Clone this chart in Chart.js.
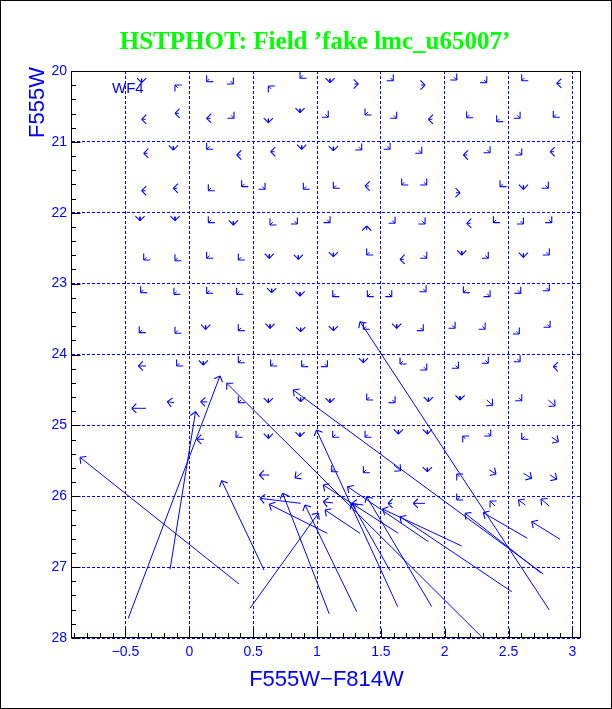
<!DOCTYPE html>
<html><head><meta charset="utf-8">
<script src="https://cdn.jsdelivr.net/npm/chart.js@4"></script>
<style>html,body{margin:0;padding:0;background:#fff;}canvas{display:block;}</style>
</head><body>
<canvas id="c" width="612" height="709"></canvas>
<script>
const titleText = "HSTPHOT: Field \u2019fake lmc_u65007\u2019";
const xAxisTitle = "F555W\u2212F814W";
const yAxisTitle = "F555W";
const chipLabel = "WF4";
const xTickValues = [-0.5, 0, 0.5, 1, 1.5, 2, 2.5, 3];
const yTickValues = [20, 21, 22, 23, 24, 25, 26, 27, 28];

// input (true) colour and magnitude of each fake star
const inputColor = [
 -0.373,-0.090,0.158,0.323,0.641,0.889,1.102,1.292,1.575,1.815,2.072,2.307,2.625,2.908,
 -0.342,-0.081,0.167,0.328,0.619,0.867,1.066,1.398,1.602,1.903,2.194,2.429,2.568,2.872,
 -0.326,-0.125,0.158,0.402,0.668,0.880,1.128,1.328,1.550,1.798,2.177,2.333,2.581,2.856,
 -0.342,-0.094,0.171,0.432,0.571,0.915,1.150,1.407,1.685,1.837,2.089,2.455,2.616,2.789,
 -0.386,-0.112,0.171,0.345,0.654,0.824,1.080,1.389,1.589,1.824,2.203,2.403,2.594,2.816,
 -0.335,-0.090,0.158,0.406,0.626,0.854,1.128,1.411,1.681,1.837,2.133,2.319,2.616,2.797,
 -0.359,-0.098,0.158,0.393,0.645,0.867,1.145,1.416,1.563,1.832,2.168,2.333,2.573,2.797,
 -0.370,-0.090,0.128,0.406,0.632,0.872,1.128,1.385,1.624,1.810,2.059,2.294,2.562,2.803,
 -0.339,-0.077,0.110,0.406,0.659,0.902,1.059,1.363,1.672,1.837,2.085,2.319,2.568,2.881,
 -0.339,-0.120,0.141,0.406,0.619,0.872,1.102,1.411,1.589,1.872,2.120,2.329,2.581,2.811,
 0.115,0.388,0.619,0.867,1.145,1.398,1.637,1.864,2.163,2.338,2.625,2.838,
 0.626,0.880,1.137,1.385,1.603,1.864,2.116,2.349,2.616,2.825,
 1.125,1.363,1.587,1.846,2.116,2.394,2.632,2.819,
 -0.478,-0.151,0.389,0.585,0.475,0.872,1.081,1.096,1.311,1.632,1.898,1.572,1.637,1.872,2.525,2.133,2.647,2.903,2.772,2.754,2.290,2.819,1.337
];
const inputMag = [
 20.109,20.238,20.111,20.143,20.252,20.063,20.109,20.183,20.097,20.198,20.087,20.125,20.097,20.174,
 20.681,20.597,20.667,20.627,20.673,20.532,20.613,20.581,20.627,20.681,20.619,20.675,20.627,20.613,
 21.161,21.059,21.065,21.185,21.139,21.049,21.069,21.075,21.065,21.121,21.185,21.113,21.145,21.139,
 21.689,21.655,21.649,21.592,21.629,21.629,21.615,21.623,21.568,21.568,21.717,21.592,21.613,21.615,
 22.056,22.056,22.100,22.117,22.133,22.119,22.100,22.243,22.109,22.119,22.149,22.100,22.119,22.100,
 22.627,22.637,22.603,22.627,22.587,22.601,22.564,22.556,22.657,22.603,22.540,22.603,22.573,22.556,
 23.088,23.111,23.097,23.111,23.072,23.119,23.144,23.144,23.144,23.074,23.088,23.144,23.097,23.060,
 23.652,23.661,23.588,23.624,23.574,23.622,23.608,23.604,23.574,23.624,23.590,23.604,23.671,23.576,
 24.162,24.122,24.092,24.076,24.122,24.132,24.132,24.060,24.094,24.179,24.155,24.084,24.062,24.172,
 24.759,24.680,24.670,24.640,24.624,24.610,24.624,24.602,24.640,24.610,24.586,24.642,24.612,24.642,
 25.196,25.128,25.126,25.104,25.128,25.128,25.066,25.066,25.190,25.110,25.156,25.168,
 25.700,25.671,25.614,25.628,25.559,25.598,25.726,25.629,25.677,25.700,
 26.095,26.124,26.100,26.100,26.013,26.138,26.124,26.138,
 27.722,27.031,27.238,27.041,27.581,26.100,26.523,27.661,27.629,27.558,27.558,27.050,26.523,26.641,27.347,26.702,26.593,26.607,27.097,27.083,27.986,27.605,26.523
];
// recovered (measured) colour and magnitude
const outputColor = [
 -0.373,-0.112,0.136,0.345,0.619,0.867,1.102,1.323,1.597,1.846,2.094,2.329,2.603,2.877,
 -0.373,-0.112,0.136,0.350,0.619,0.867,1.088,1.376,1.624,1.872,2.172,2.407,2.590,2.850,
 -0.357,-0.125,0.136,0.371,0.637,0.880,1.128,1.350,1.572,1.820,2.146,2.355,2.603,2.825,
 -0.373,-0.125,0.149,0.410,0.593,0.893,1.128,1.376,1.663,1.859,2.120,2.433,2.616,2.811,
 -0.386,-0.112,0.149,0.345,0.632,0.846,1.102,1.389,1.611,1.846,2.172,2.381,2.616,2.838,
 -0.357,-0.112,0.136,0.384,0.626,0.854,1.128,1.389,1.650,1.859,2.133,2.341,2.616,2.819,
 -0.381,-0.120,0.136,0.371,0.645,0.867,1.123,1.394,1.585,1.854,2.146,2.355,2.595,2.819,
 -0.392,-0.112,0.128,0.384,0.632,0.872,1.128,1.363,1.624,1.832,2.081,2.316,2.584,2.825,
 -0.399,-0.099,0.110,0.384,0.637,0.880,1.081,1.363,1.650,1.859,2.107,2.341,2.590,2.850,
 -0.451,-0.172,0.089,0.384,0.619,0.872,1.102,1.389,1.611,1.872,2.120,2.376,2.603,2.864,
 0.058,0.366,0.619,0.867,1.123,1.376,1.637,1.864,2.141,2.360,2.603,2.890,
 0.548,0.828,1.115,1.363,1.655,1.864,2.094,2.402,2.681,2.877,
 1.049,1.272,1.556,1.754,2.094,2.355,2.577,2.754,
 0.240,0.049,-0.856,0.254,1.010,0.554,0.626,0.731,0.906,0.996,1.389,1.272,1.049,1.239,1.650,1.513,2.302,2.681,0.814,2.159,0.293,1.337,1.063
];
const outputMag = [
 20.165,20.198,20.151,20.183,20.212,20.103,20.165,20.183,20.137,20.198,20.127,20.165,20.137,20.174,
 20.681,20.597,20.667,20.667,20.729,20.588,20.653,20.621,20.667,20.681,20.659,20.715,20.667,20.653,
 21.161,21.115,21.105,21.185,21.139,21.105,21.125,21.115,21.105,21.161,21.185,21.153,21.185,21.139,
 21.689,21.655,21.689,21.632,21.669,21.669,21.655,21.623,21.608,21.608,21.717,21.632,21.669,21.655,
 22.112,22.112,22.140,22.173,22.173,22.159,22.140,22.187,22.149,22.159,22.149,22.140,22.159,22.140,
 22.667,22.677,22.643,22.667,22.643,22.657,22.620,22.596,22.657,22.643,22.596,22.643,22.629,22.596,
 23.128,23.151,23.137,23.151,23.128,23.175,23.184,23.184,23.184,23.114,23.128,23.184,23.137,23.100,
 23.692,23.701,23.644,23.664,23.630,23.678,23.664,23.644,23.630,23.664,23.630,23.644,23.711,23.616,
 24.162,24.162,24.148,24.116,24.162,24.172,24.172,24.116,24.134,24.219,24.195,24.124,24.102,24.172,
 24.759,24.666,24.666,24.680,24.680,24.666,24.680,24.642,24.680,24.666,24.642,24.717,24.652,24.727,
 25.196,25.168,25.182,25.160,25.168,25.168,25.122,25.122,25.150,25.150,25.196,25.230,
 25.700,25.742,25.654,25.668,25.640,25.654,25.686,25.686,25.747,25.761,
 26.077,26.100,26.100,26.100,26.053,26.067,26.053,26.039,
 24.303,24.807,25.450,25.781,26.241,26.029,26.114,25.958,26.123,25.065,26.006,26.100,25.842,25.865,26.289,26.180,26.232,26.359,24.501,26.241,24.406,23.537,26.194
];

const BLUE = '#0000ff';
const shafts = [];
for (let i = 0; i < inputColor.length; i++) {
  shafts.push({x: inputColor[i], y: inputMag[i]});
  shafts.push({x: outputColor[i], y: outputMag[i]});
  shafts.push({x: null, y: null});
}
function fmt(v) { return v < 0 ? '\u2212' + Math.abs(v) : String(v); }

const arrowHeads = {
  id: 'arrowHeads',
  afterDatasetsDraw(chart) {
    const {ctx, chartArea: a} = chart;
    const xs = chart.scales.x, ys = chart.scales.y;
    ctx.save();
    ctx.beginPath(); ctx.rect(a.left, a.top, a.right - a.left, a.bottom - a.top); ctx.clip();
    ctx.strokeStyle = BLUE; ctx.lineWidth = 1.1;
    ctx.beginPath();
    const H = 6.5;
    for (let i = 0; i < inputColor.length; i++) {
      const x0 = xs.getPixelForValue(inputColor[i]), y0 = ys.getPixelForValue(inputMag[i]);
      const x1 = xs.getPixelForValue(outputColor[i]), y1 = ys.getPixelForValue(outputMag[i]);
      const ang = Math.atan2(y1 - y0, x1 - x0);
      for (const s of [-1, 1]) {
        const b = ang + Math.PI + s * Math.PI / 4;
        ctx.moveTo(x1, y1);
        ctx.lineTo(x1 + H * Math.cos(b), y1 + H * Math.sin(b));
      }
    }
    ctx.stroke();
    ctx.restore();
  }
};

const frameAndText = {
  id: 'frameAndText',
  afterDraw(chart) {
    const {ctx, chartArea: a} = chart;
    const xs = chart.scales.x, ys = chart.scales.y;
    ctx.save();
    ctx.strokeStyle = '#000'; ctx.lineWidth = 1;
    const L = Math.round(a.left) - 0.5, R = Math.round(a.right) - 0.5;
    const T = Math.round(a.top) + 0.5, B = Math.round(a.bottom) - 0.5;
    ctx.strokeRect(L, T, R - L, B - T);
    ctx.beginPath();
    for (let k = -9; k <= 30; k++) {
      const px = Math.round(xs.getPixelForValue(k / 10)) + 0.5;
      const len = (k % 5 === 0) ? 9 : 4.5;
      ctx.moveTo(px, B); ctx.lineTo(px, B - len);
    }
    for (let k = 100; k <= 140; k++) {
      const py = Math.round(ys.getPixelForValue(k / 5)) + 0.5;
      const len = (k % 5 === 0) ? 9 : 4.5;
      ctx.moveTo(L, py); ctx.lineTo(L + len, py);
    }
    ctx.stroke();
    ctx.strokeRect(0.5, 0.5, chart.width - 1, chart.height - 1);
    ctx.fillStyle = '#00ff00';
    ctx.font = 'bold 25px "Liberation Serif"';
    ctx.textAlign = 'center'; ctx.textBaseline = 'alphabetic';
    ctx.fillText(titleText, 315, 49);
    ctx.fillStyle = BLUE;
    ctx.font = '22px "Liberation Sans"';
    ctx.fillText(xAxisTitle, (a.left + a.right) / 2, 686);
    ctx.save();
    ctx.translate(44, 67); ctx.rotate(-Math.PI / 2);
    ctx.textAlign = 'right';
    ctx.fillText(yAxisTitle, 0, 0);
    ctx.restore();
    ctx.font = '15px "Liberation Sans"';
    ctx.textAlign = 'left';
    ctx.fillText(chipLabel, 112, 93);
    ctx.restore();
  }
};

new Chart(document.getElementById('c'), {
  type: 'scatter',
  data: {datasets: [{
    data: shafts, showLine: true, spanGaps: false, borderColor: BLUE, borderWidth: 1,
    pointRadius: 0, pointHoverRadius: 0, fill: false, tension: 0
  }]},
  options: {
    responsive: false, animation: false, devicePixelRatio: 1,
    layout: {padding: {left: 0, right: 31, top: 71, bottom: 0}},
    plugins: {legend: {display: false}, tooltip: {enabled: false}, title: {display: false}},
    scales: {
      x: {
        type: 'linear', position: 'bottom', min: -0.9185, max: 3.067,
        afterBuildTicks: s => { s.ticks = xTickValues.map(v => ({value: v})); },
        afterFit: s => { s.height = 71; },
        grid: {color: BLUE, lineWidth: 1, drawTicks: false},
        border: {display: false, dash: [3, 2]},
        ticks: {color: BLUE, font: {family: 'Liberation Sans', size: 14}, padding: 6,
                maxRotation: 0, autoSkip: false, callback: v => fmt(v)}
      },
      y: {
        type: 'linear', position: 'left', reverse: true, min: 20, max: 28,
        afterBuildTicks: s => { s.ticks = yTickValues.map(v => ({value: v})); },
        afterFit: s => { s.width = 72; },
        grid: {color: BLUE, lineWidth: 1, drawTicks: false},
        border: {display: false, dash: [3, 2]},
        ticks: {color: BLUE, font: {family: 'Liberation Sans', size: 14}, padding: 5,
                autoSkip: false, callback: v => fmt(v)}
      }
    }
  },
  plugins: [arrowHeads, frameAndText]
});
</script>
</body></html>
